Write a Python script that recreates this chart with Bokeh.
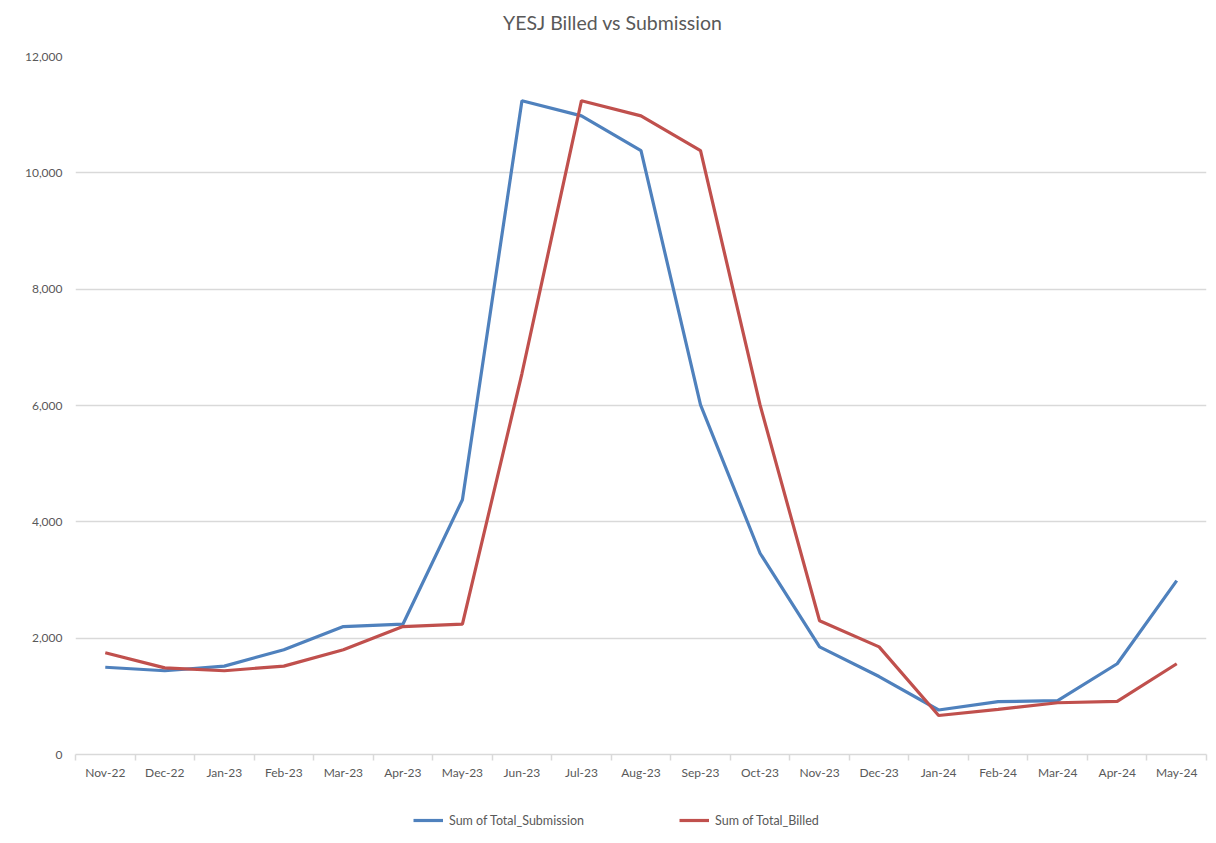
import numpy as np
from bokeh.plotting import figure
from bokeh.layouts import column
from bokeh.models import (ColumnDataSource, FixedTicker, NumeralTickFormatter, Legend,
                          LegendItem, Range1d, LinearAxis, Grid, Div)
from bokeh.embed import file_html
from bokeh.resources import INLINE

months = ["Nov-22", "Dec-22", "Jan-23", "Feb-23", "Mar-23", "Apr-23", "May-23", "Jun-23",
          "Jul-23", "Aug-23", "Sep-23", "Oct-23", "Nov-23", "Dec-23", "Jan-24", "Feb-24",
          "Mar-24", "Apr-24", "May-24"]
submission = [1500, 1440, 1520, 1800, 2200, 2240, 4380, 11240, 10980, 10380, 6010, 3460,
              1850, 1340, 765, 910, 925, 1560, 2990]
billed = [1750, 1490, 1440, 1520, 1800, 2200, 2240, 6550, 11240, 10980, 10380, 6010,
          2300, 1850, 670, 775, 890, 915, 1560]
y_ticks = [0, 2000, 4000, 6000, 8000, 10000, 12000]
title_text = "YESJ Billed vs Submission"
series_labels = ["Sum of Total_Submission", "Sum of Total_Billed"]

FONT = "Lato"
GREY = "#595959"
LINE = "#d9d9d9"
BLUE = "#4f81bd"
RED = "#c0504d"

idx = list(range(len(months)))
src = ColumnDataSource(dict(x=idx, sub=submission, bill=billed))

header = Div(text=title_text, width=1210, height=46, margin=0,
             styles={"font-family": FONT, "font-size": "19.5px", "color": GREY,
                     "line-height": "46px", "padding-left": "503px", "white-space": "nowrap"})

p = figure(frame_width=1131, frame_height=698, output_backend="svg", toolbar_location=None,
           x_range=Range1d(-0.5, len(months) - 0.5), y_range=Range1d(0, y_ticks[-1]),
           min_border_left=75, min_border_right=4, min_border_top=10, min_border_bottom=46,
           x_axis_location=None, y_axis_location=None, title=None)
p.outline_line_color = None

# y axis
yax = LinearAxis(ticker=FixedTicker(ticks=y_ticks),
                 formatter=NumeralTickFormatter(format="0,0"))
yax.axis_line_color = None
yax.major_tick_line_color = None
yax.minor_tick_line_color = None
yax.major_label_standoff = 7
yax.major_label_text_font = FONT
yax.major_label_text_font_size = "12px"
yax.major_label_text_color = GREY
p.add_layout(yax, "left")

# x axis
boundaries = [i - 0.5 for i in range(len(months) + 1)]
xax = LinearAxis(ticker=FixedTicker(ticks=idx, minor_ticks=boundaries))
xax.major_label_overrides = {i: m for i, m in zip(idx, months)}
xax.axis_line_color = LINE
xax.axis_line_width = 1.5
xax.major_tick_line_color = None
xax.minor_tick_line_color = LINE
xax.minor_tick_line_width = 1.5
xax.minor_tick_in = 0
xax.minor_tick_out = 6
xax.major_label_standoff = 4
xax.major_label_text_font = FONT
xax.major_label_text_font_size = "12px"
xax.major_label_text_color = GREY
p.add_layout(xax, "below")

p.xgrid.visible = False
p.ygrid.visible = False
p.add_layout(Grid(dimension=1, ticker=yax.ticker, grid_line_color=LINE, grid_line_width=1.5))

p.line("x", "sub", source=src, line_color=BLUE, line_width=3.2)
p.line("x", "bill", source=src, line_color=RED, line_width=3.2)

# legend strip below the chart (legend drawn inside its own frame)
pl = figure(frame_width=1131, frame_height=40, output_backend="svg", toolbar_location=None,
            x_range=Range1d(0, 1), y_range=Range1d(-2, -1),
            min_border_left=75, min_border_right=4, min_border_top=0, min_border_bottom=0,
            x_axis_location=None, y_axis_location=None, title=None)
pl.outline_line_color = None
pl.xgrid.visible = False
pl.ygrid.visible = False
l1 = pl.line("x", "sub", source=src, line_color=BLUE, line_width=3.2)
l2 = pl.line("x", "bill", source=src, line_color=RED, line_width=3.2)

legend = Legend(items=[LegendItem(label=series_labels[0], renderers=[l1]),
                       LegendItem(label=series_labels[1], renderers=[l2])],
                orientation="horizontal", location=(338, 10),
                label_text_font=FONT, label_text_font_size="12.5px", label_text_color=GREY,
                glyph_width=30, glyph_height=20, label_height=20, spacing=95,
                border_line_color=None, background_fill_alpha=0, margin=0, padding=0,
                label_standoff=6)
pl.add_layout(legend, "center")

layout = column(header, p, pl, spacing=0)
open("out.html", "w").write(file_html(layout, INLINE))
